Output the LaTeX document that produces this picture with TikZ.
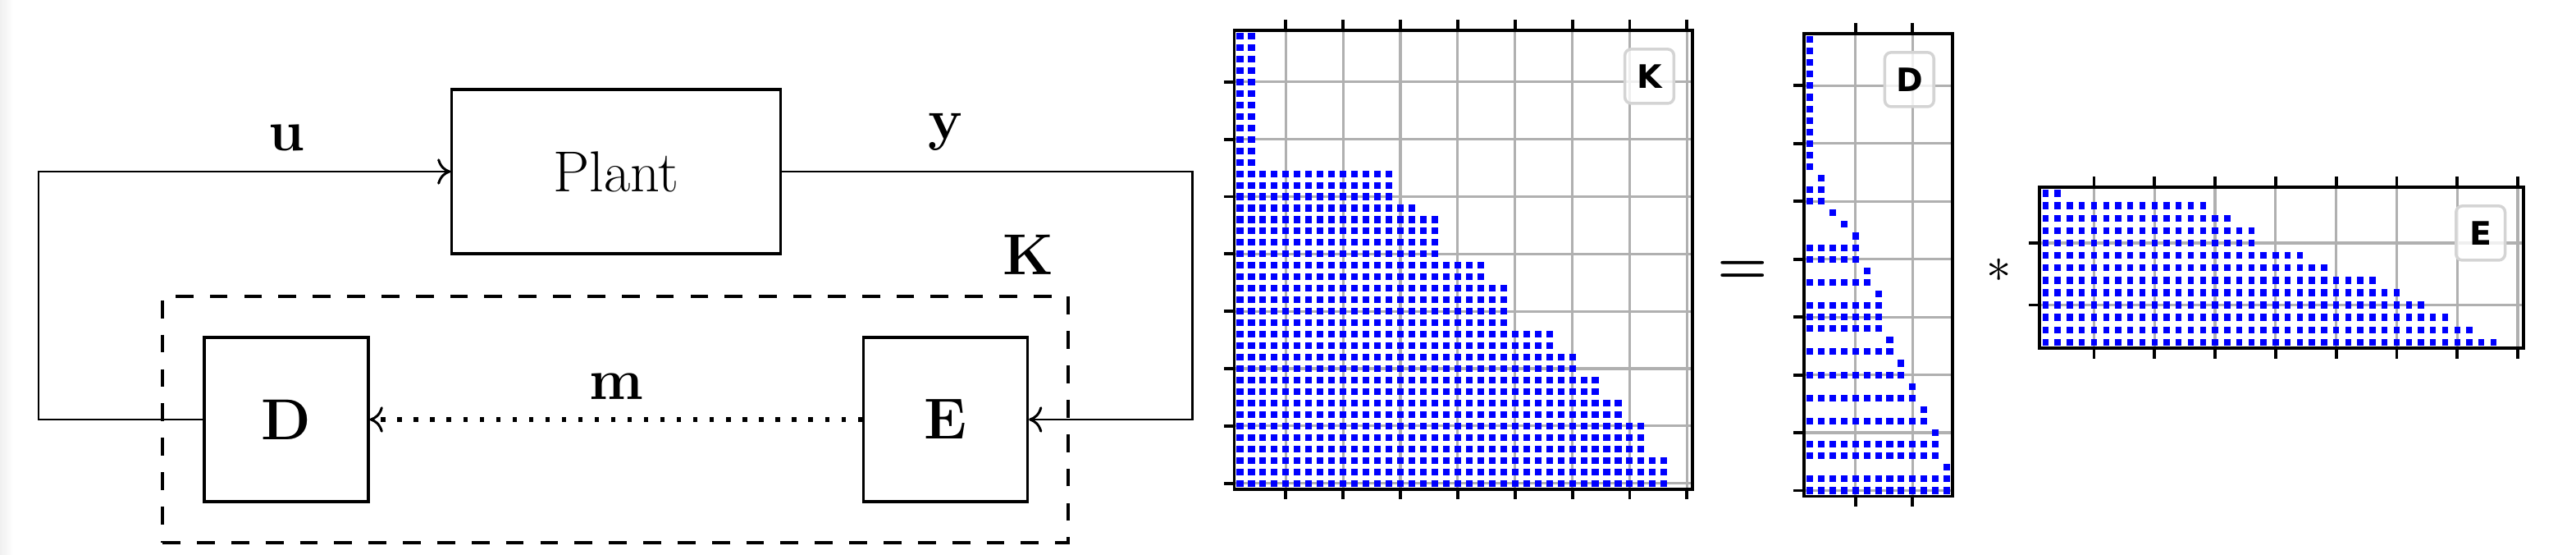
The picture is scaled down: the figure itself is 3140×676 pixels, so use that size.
\documentclass[tikz,border=0pt]{standalone}
\usepackage{fontspec}
\newfontfamily\plotfont{DejaVu Sans}
\usetikzlibrary{arrows.meta}

\begin{document}
\begin{tikzpicture}[x=0.01cm, y=-0.01cm, font=\fontsize{20}{24}\selectfont]
 \tikzset{
   blk/.style={draw, line width=0.9pt, minimum width=2cm, minimum height=2cm, inner sep=0pt},
   sig/.style={line width=0.85pt, -{Computer Modern Rightarrow[length=4.6pt, width=9pt, line width=0.85pt]}},
   msg/.style={sig, line width=1.5pt, dash pattern=on 1.5pt off 4.2pt},
   ctrlbox/.style={draw, line width=1.1pt, dash pattern=on 6.2pt off 5.7pt,
     minimum width=11.03cm, minimum height=2.99cm},
   spydot/.style={fill=blue},
   spygrid/.style={draw=black!31, line width=0.9pt},
   spyaxis/.style={draw=black, line width=1.1pt},
   spylabel/.style={draw=black!17, fill=white, fill opacity=0.8, text opacity=1,
     line width=1pt, rounded corners=2.2pt, minimum width=17pt, minimum height=18.8pt,
     inner sep=0pt, font=\plotfont\fontsize{11.2}{13}\selectfont\bfseries},
 }
 \useasboundingbox (0,0) rectangle (3140,676);
 \fill[white] (0,0) rectangle (3140,676);
 \shade[left color=black!6, right color=white] (0,0) rectangle (16,676);

 % feedback loop
 \node[blk, minimum width=4cm] (plant) at (751,209) {Plant};
 \node[ctrlbox] (ctrl) at (750,511) {};
 \node[blk] (dec) at (349,511) {\textbf{D}};
 \node[blk] (enc) at (1152.5,511) {\textbf{E}};
 \coordinate (lft) at (47,209);
 \coordinate (rgt) at (1453,209);
 \draw[sig] (dec.west) -| (lft) -- (plant.west);
 \draw[sig] (plant.east) -- (rgt) |- (enc.east);
 \draw[msg] (enc.west) -- (dec.east);
 \node[above] (ulbl) at (349,196) {\textbf{u}};
 \node[above] (ylbl) at (1152.5,196) {\textbf{y}};
 \node (klbl) at (1253,310) {\textbf{K}};
 \node[above] (mlbl) at (751,499) {\textbf{m}};

 % sparsity of K
 \begin{scope}[shift={(1504.5,37)}, x=0.1396cm, y=-0.1396cm]
  \foreach \v in {5,10,...,40} {
    \draw[spygrid] (\v-0.5,0) -- (\v-0.5,40);
    \draw[spygrid] (0,\v-0.5) -- (40,\v-0.5);
    \draw[spyaxis] (\v-0.5,0) -- ++(0pt,3.6pt) (\v-0.5,40) -- ++(0pt,-3.6pt)
      (0,\v-0.5) -- ++(-3.6pt,0pt);
  }
  \foreach \ra/\rb/\n in {1/12/2,13/15/14,16/16/16,17/20/18,21/22/22,23/26/24,
      27/28/28,29/30/30,31/32/32,33/34/34,35/37/36,38/40/38}
   \foreach \r in {\ra,...,\rb}
    \foreach \c in {1,...,\n}
     \fill[spydot] (\c-0.5,\r-0.5) +(-1.15pt,-1.15pt) rectangle +(1.15pt,1.15pt);
  \draw[spyaxis] (0,0) rectangle (40,40);
  \node[spylabel, anchor=north east] (kname) at ([xshift=-6pt, yshift=-6pt]40,0) {K};
 \end{scope}

 \node[anchor=base] (eqs) at (2124,345.6) {\textbf{=}};

 % sparsity of D
 \begin{scope}[shift={(2199,41)}, x=0.1392cm, y=-0.1408cm]
  \foreach \v in {5,10} {
    \draw[spygrid] (\v-0.5,0) -- (\v-0.5,40);
    \draw[spyaxis] (\v-0.5,0) -- ++(0pt,3.6pt) (\v-0.5,40) -- ++(0pt,-3.6pt);
  }
  \foreach \v in {5,10,...,40} {
    \draw[spygrid] (0,\v-0.5) -- (13,\v-0.5);
    \draw[spyaxis] (0,\v-0.5) -- ++(-3.6pt,0pt);
  }
  \foreach \a/\b [count=\r] in {1/1,1/1,1/1,1/1,1/1,1/1,1/1,1/1,1/1,1/1,1/1,1/1,
      2/2,1/2,1/2,3/3,4/4,5/5,1/5,1/5,6/6,1/6,7/7,1/7,1/7,1/7,8/8,1/8,
      9/9,1/9,10/10,1/10,11/11,1/11,12/12,1/12,1/12,13/13,1/13,1/13}
   \foreach \c in {\a,...,\b}
    \fill[spydot] (\c-0.5,\r-0.5) +(-1.15pt,-1.15pt) rectangle +(1.15pt,1.15pt);
  \draw[spyaxis] (0,0) rectangle (13,40);
  \node[spylabel, anchor=north east] (dname) at ([xshift=-6pt, yshift=-6pt]13,0) {D};
 \end{scope}

 \node[anchor=base, font=\fontsize{18}{21}\selectfont] (mul) at (2437,343) {$\ast$};

 % sparsity of E
 \begin{scope}[shift={(2486,228)}, x=0.1475cm, y=-0.151cm]
  \foreach \v in {5,10,...,40} {
    \draw[spygrid] (\v-0.5,0) -- (\v-0.5,13);
    \draw[spyaxis] (\v-0.5,0) -- ++(0pt,3.6pt) (\v-0.5,13) -- ++(0pt,-3.6pt);
  }
  \foreach \v in {5,10} {
    \draw[spygrid] (0,\v-0.5) -- (40,\v-0.5);
    \draw[spyaxis] (0,\v-0.5) -- ++(-3.6pt,0pt);
  }
  \foreach \n [count=\r] in {2,14,16,18,18,22,24,28,30,32,34,36,38}
   \foreach \c in {1,...,\n}
    \fill[spydot] (\c-0.5,\r-0.5) +(-1.05pt,-1.2pt) rectangle +(1.05pt,1.2pt);
  \draw[spyaxis] (0,0) rectangle (40,13);
  \node[spylabel, anchor=north east] (ename) at ([xshift=-6pt, yshift=-6pt]40,0) {E};
 \end{scope}
\end{tikzpicture}
\end{document}
